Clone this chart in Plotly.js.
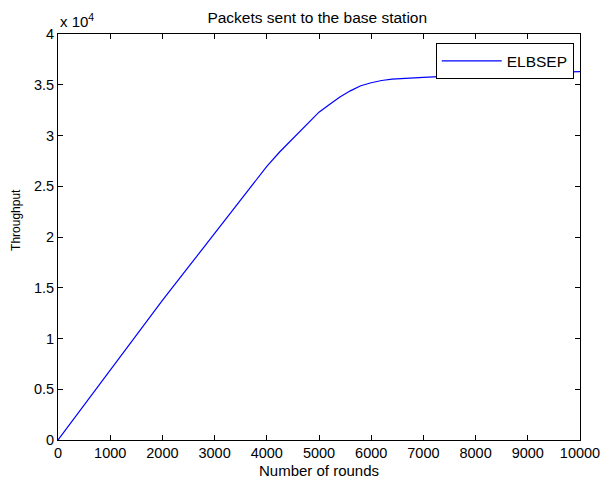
<!DOCTYPE html>
<html>
<head>
<meta charset="utf-8">
<script src="https://cdn.plot.ly/plotly-3.0.1.min.js"></script>
<style>html,body{margin:0;padding:0;background:#fff;}#chart{width:602px;height:483px;}</style>
</head>
<body>
<div id="chart"></div>
<script>
var rounds = [0, 500, 1000, 1500, 2000, 2500, 3000, 3500, 4000, 4250, 4500, 4750, 5000, 5200, 5400, 5600, 5800, 6000, 6200, 6400, 6600, 7000, 7500, 8000, 8500, 9000, 9500, 10000];
var throughput = [0, 3450, 6900, 10350, 13750, 17050, 20350, 23650, 26950, 28400, 29700, 31000, 32300, 33050, 33800, 34400, 34900, 35200, 35420, 35550, 35620, 35720, 35850, 35980, 36070, 36160, 36230, 36300];
var seriesName = 'ELBSEP';
var xTicks = [0, 1000, 2000, 3000, 4000, 5000, 6000, 7000, 8000, 9000, 10000];
var yTicks = [0, 5000, 10000, 15000, 20000, 25000, 30000, 35000, 40000];
var yTickText = ['0', '0.5', '1', '1.5', '2', '2.5', '3', '3.5', '4'];

var fam = 'Liberation Sans, Arial, sans-serif';

var trace = {
  x: rounds, y: throughput, type: 'scatter', mode: 'lines', name: seriesName,
  line: {color: '#0000ff', width: 1.2, shape: 'linear'}
};

var layout = {
  width: 602, height: 483,
  margin: {l: 58, r: 22, t: 34, b: 43, pad: 0},
  paper_bgcolor: '#fff', plot_bgcolor: '#fff',
  font: {family: fam, size: 14, color: '#000'},
  title: {text: 'Packets sent to the base station', font: {family: fam, size: 15.5, color: '#000'}, x: 0.527, xanchor: 'center', y: 0.963, yanchor: 'middle'},
  xaxis: {
    range: [0, 10000], tickvals: xTicks, ticktext: xTicks.map(String),
    showgrid: false, zeroline: false, showline: true, linecolor: '#000', linewidth: 1,
    mirror: 'ticks', ticks: 'inside', ticklen: 5, tickcolor: '#000',
    tickfont: {family: fam, size: 14.5, color: '#000'},
    title: {text: 'Number of rounds', font: {family: fam, size: 15, color: '#000'}, standoff: 5}
  },
  yaxis: {
    range: [0, 40000], tickvals: yTicks, ticktext: yTickText,
    showgrid: false, zeroline: false, showline: true, linecolor: '#000', linewidth: 1,
    mirror: 'ticks', ticks: 'inside', ticklen: 5, tickcolor: '#000',
    tickfont: {family: fam, size: 14.5, color: '#000'}
  },
  showlegend: true,
  legend: {
    x: 0.988, xanchor: 'right', y: 0.977, yanchor: 'top',
    bgcolor: '#fff', bordercolor: '#000', borderwidth: 1,
    itemwidth: 60,
    font: {family: fam, size: 15.5, color: '#000'}
  },
  annotations: [{
    xref: 'paper', yref: 'paper', x: 0, y: 1, xanchor: 'left', yanchor: 'bottom', yshift: 2,
    showarrow: false, text: 'x 10<sup>4</sup>', font: {family: fam, size: 15, color: '#000'}
  }, {
    xref: 'paper', yref: 'paper', x: 0, y: 0.542, xanchor: 'center', yanchor: 'middle', xshift: -42,
    textangle: -90, showarrow: false, text: 'Throughput', font: {family: fam, size: 12, color: '#000'}
  }]
};

Plotly.newPlot('chart', [trace], layout, {displayModeBar: false, staticPlot: true});
</script>
</body>
</html>
